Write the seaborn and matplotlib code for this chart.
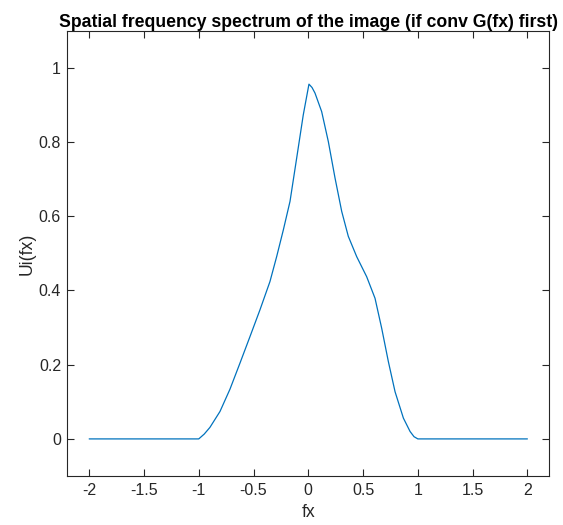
import matplotlib
matplotlib.use("Agg")
import matplotlib.pyplot as plt
import seaborn as sns
import pandas as pd

sns.set_style("ticks")
plt.rcParams["font.family"] = ["Liberation Sans", "DejaVu Sans"]

# Spectrum samples: spatial frequency fx and magnitude Ui(fx)
fx = [-2.0, -1.5, -1.0, -0.95, -0.898, -0.806, -0.715, -0.624, -0.532, -0.441,
      -0.35, -0.289, -0.228, -0.167, -0.106, -0.046, 0.006, 0.034, 0.061, 0.122,
      0.183, 0.244, 0.305, 0.365, 0.442, 0.533, 0.609, 0.670, 0.731, 0.792,
      0.868, 0.929, 0.965, 1.0, 1.5, 2.0]
ui = [0.0, 0.0, 0.0, 0.013, 0.031, 0.074, 0.134, 0.204, 0.276, 0.348,
      0.424, 0.491, 0.563, 0.640, 0.757, 0.873, 0.956, 0.947, 0.932, 0.882,
      0.801, 0.703, 0.613, 0.546, 0.491, 0.437, 0.379, 0.298, 0.208, 0.127,
      0.056, 0.020, 0.006, 0.0, 0.0, 0.0]

xticks = [-2, -1.5, -1, -0.5, 0, 0.5, 1, 1.5, 2]
xtick_labels = ["-2", "-1.5", "-1", "-0.5", "0", "0.5", "1", "1.5", "2"]
yticks = [0, 0.2, 0.4, 0.6, 0.8, 1]
ytick_labels = ["0", "0.2", "0.4", "0.6", "0.8", "1"]

df = pd.DataFrame({"fx": fx, "Ui": ui})

fig = plt.figure(figsize=(5.63, 5.25), dpi=100)
ax = fig.add_axes([0.1195, 0.0933, 0.8562, 0.8482])

sns.lineplot(data=df, x="fx", y="Ui", ax=ax, color="#0072BD", linewidth=0.9,
             sort=False, estimator=None)

ax.set_xlim(-2.2, 2.2)
ax.set_ylim(-0.1, 1.1)
ax.set_xticks(xticks)
ax.set_xticklabels(xtick_labels)
ax.set_yticks(yticks)
ax.set_yticklabels(ytick_labels)

tick_gray = "#262626"
ax.tick_params(axis="both", which="both", direction="in", length=5, width=0.8,
               top=True, right=True, labelsize=11.5, colors=tick_gray,
               labelcolor=tick_gray)
ax.tick_params(axis="x", pad=5)
ax.tick_params(axis="y", pad=4.5)
for side in ax.spines.values():
    side.set_visible(True)
    side.set_color(tick_gray)
    side.set_linewidth(0.8)

ax.set_xlabel("fx", fontsize=12.7, color=tick_gray, labelpad=4)
ax.set_ylabel("Ui(fx)", fontsize=12.7, color=tick_gray, labelpad=2)
ax.set_title("Spatial frequency spectrum of the image (if conv G(fx) first)",
             fontsize=12.7, fontweight="bold", color="black", pad=1)

fig.savefig("out.png", dpi=100)
